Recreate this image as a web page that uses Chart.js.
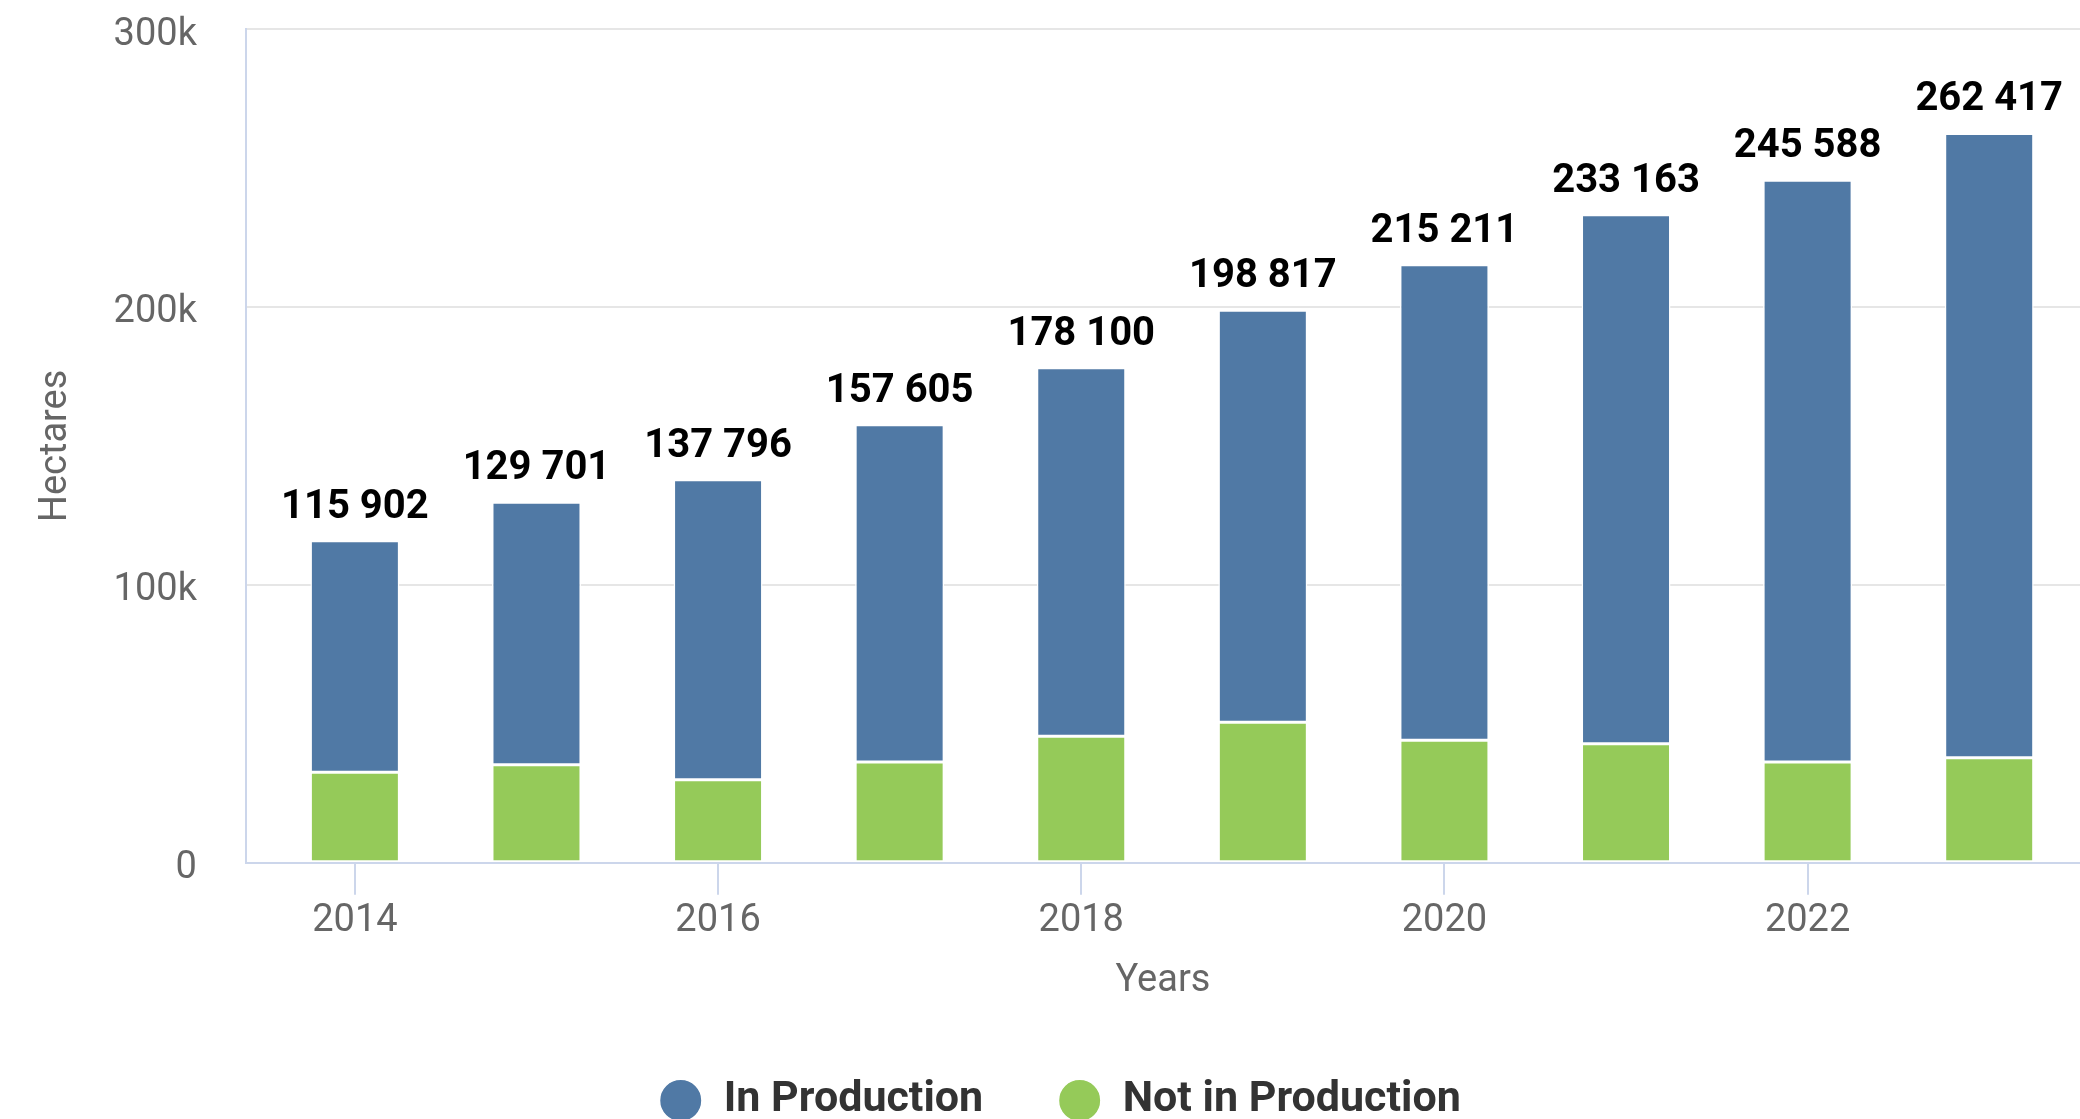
<!DOCTYPE html>
<html>
<head>
<meta charset="utf-8">
<script src="https://cdn.jsdelivr.net/npm/chart.js@4"></script>
<style>
  body { margin: 0; background: #fff; }
  #wrap { width: 2080px; height: 1119px; }
</style>
</head>
<body>
<div id="wrap"><canvas id="grafica"></canvas></div>
<script>
// Years on the x axis
const years = [2014, 2015, 2016, 2017, 2018, 2019, 2020, 2021, 2022, 2023];
// Hectares per series
const inProduction = [83302, 94401, 107896, 121305, 132600, 148217, 171111, 190363, 209288, 224617];
const notInProduction = [32600, 35300, 29900, 36300, 45500, 50600, 44100, 42800, 36300, 37800];
// y tick values
const yTicks = [0, 100000, 200000, 300000];

Chart.defaults.font.family = 'Roboto';

function conEspacios(n) {
  return String(n).replace(/\B(?=(\d{3})+(?!\d))/g, ' ');
}

// totals above each stack
const totales = {
  id: 'totales',
  afterDatasetsDraw(chart) {
    const ctx = chart.ctx;
    const meta = chart.getDatasetMeta(1);
    ctx.save();
    ctx.font = 'bold 40px Roboto';
    ctx.fillStyle = '#000';
    ctx.textAlign = 'center';
    ctx.textBaseline = 'alphabetic';
    meta.data.forEach((bar, i) => {
      const total = inProduction[i] + notInProduction[i];
      ctx.fillText(conEspacios(total), bar.x, bar.y - 23);
    });
    ctx.restore();
  }
};

const ctx = document.getElementById('grafica').getContext('2d');
new Chart(ctx, {
  type: 'bar',
  data: {
    datasets: [{
      label: 'Not in Production',
      data: years.map((y, i) => ({ x: y, y: notInProduction[i] })),
      backgroundColor: '#95ca59',
      borderColor: '#ffffff',
      borderWidth: 1.5,
      borderSkipped: false
    }, {
      label: 'In Production',
      data: years.map((y, i) => ({ x: y, y: inProduction[i] })),
      backgroundColor: '#5079a5',
      borderColor: '#ffffff',
      borderWidth: 1.5,
      borderSkipped: false
    }]
  },
  options: {
    responsive: true,
    maintainAspectRatio: false,
    animation: false,
    barPercentage: 0.49,
    categoryPercentage: 1,
    layout: { padding: { top: 29, left: 40, right: 0, bottom: -13 } },
    plugins: {
      legend: {
        display: true,
        position: 'bottom',
        reverse: true,
        labels: {
          usePointStyle: true,
          pointStyle: 'circle',
          boxWidth: 43,
          boxHeight: 30,
          color: '#333333',
          font: { size: 43, weight: 'bold' },
          padding: 75
        }
      },
      tooltip: { enabled: false }
    },
    scales: {
      x: {
        type: 'linear',
        stacked: true,
        offset: false,
        min: 2013.4,
        max: 2023.5,
        border: { display: true, color: '#ccd6eb', width: 2 },
        grid: { offset: false, drawOnChartArea: false, drawTicks: true, tickLength: 32, tickColor: '#ccd6eb', lineWidth: 2 },
        ticks: {
          stepSize: 2,
          includeBounds: false,
          color: '#666666',
          font: { size: 38 },
          padding: 4,
          maxRotation: 0,
          callback: v => String(v)
        },
        title: { display: true, text: 'Years', color: '#666666', font: { size: 38 }, padding: { top: 10, bottom: 0 } }
      },
      y: {
        stacked: true,
        min: 0,
        max: 300000,
        afterBuildTicks: scale => { scale.ticks = yTicks.map(v => ({ value: v })); },
        border: { display: true, color: '#ccd6eb', width: 2 },
        grid: { color: '#e6e6e6', lineWidth: 2, drawTicks: true, tickLength: 46, tickColor: 'rgba(0,0,0,0)' },
        ticks: {
          color: '#666666',
          font: { size: 38 },
          padding: 3,
          labelOffset: 6,
          callback: v => v === 0 ? '0' : (v / 1000) + 'k'
        },
        title: { display: true, text: 'Hectares', color: '#666666', font: { size: 38 }, padding: { top: -6, bottom: 31 } }
      }
    }
  },
  plugins: [totales]
});
</script>
</body>
</html>
